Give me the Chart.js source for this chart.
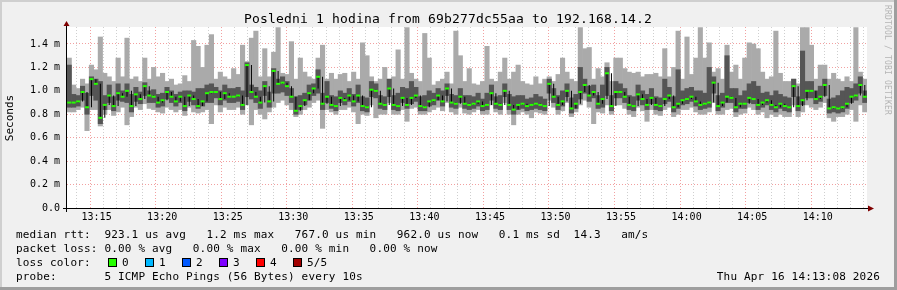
<!DOCTYPE html>
<html>
<head>
<meta charset="utf-8">
<script src="https://cdn.jsdelivr.net/npm/chart.js@4.4.1/dist/chart.umd.min.js"></script>
<style>
  html, body { margin: 0; padding: 0; background: #f0f0f0; }
  canvas { display: block; }
</style>
</head>
<body>
<canvas id="graph" width="897" height="290"></canvas>
<script>
// window 13:13:15 .. 14:13:15, one sample every 20 s (180 samples)
const startSec = 13 * 3600 + 13 * 60 + 15;
const spanSec = 3600;

// median rtt, ms
const medRtt = [
  0.90,0.90,0.91,0.99,0.86,1.10,1.06,0.77,0.88,0.96,0.87,0.98,0.95,1.00,0.87,0.97,0.93,1.04,0.96,0.95,0.90,0.92,0.99,0.95,0.91,0.95,0.87,0.96,0.93,0.87,
  0.91,0.98,0.99,0.99,0.93,0.98,0.95,0.95,0.96,0.88,1.22,0.99,0.95,0.90,1.04,0.91,1.17,1.06,1.07,1.04,0.95,0.83,0.87,0.92,0.98,1.02,1.12,0.89,0.95,0.88,
  0.87,0.94,0.92,0.96,0.91,0.96,0.87,0.86,1.01,1.00,0.89,0.88,1.02,0.88,0.87,0.94,0.88,0.94,0.96,0.87,0.86,0.91,0.92,0.96,0.91,1.02,0.90,0.89,0.95,0.89,
  0.88,0.89,0.91,0.87,0.88,0.98,0.89,0.88,1.00,0.88,0.84,0.88,0.89,0.87,0.88,0.89,0.88,0.87,1.06,0.95,0.88,0.91,1.00,0.85,0.89,0.99,1.05,0.96,0.99,0.89,
  0.93,1.15,0.87,0.99,0.99,0.95,0.88,0.87,0.97,0.93,0.88,0.94,0.88,0.87,0.93,0.96,0.86,0.89,0.92,0.93,0.95,0.91,0.88,0.89,0.90,1.07,0.87,0.90,0.95,0.94,
  0.86,0.89,0.89,0.94,0.93,0.88,0.90,0.92,0.88,0.86,0.89,0.87,0.86,1.04,0.87,0.92,1.00,1.00,0.93,0.95,1.05,0.85,0.86,0.85,0.86,0.89,0.95,0.96,1.05,0.95
];
// slowest ping
const smokeMax = [
  1.28,1.05,1.02,1.10,1.06,1.22,1.18,1.46,1.15,1.12,1.08,1.28,1.12,1.45,1.10,1.12,1.08,1.28,1.10,1.20,1.12,1.15,1.08,1.10,1.05,1.06,1.13,1.08,1.43,1.38,
  1.20,1.39,1.48,1.10,1.16,1.12,1.10,1.19,1.14,1.39,1.25,1.45,1.51,1.12,1.36,1.12,1.33,1.54,1.15,1.14,1.42,1.10,1.28,1.16,1.12,1.10,1.28,1.39,1.10,1.15,
  1.10,1.14,1.15,1.08,1.16,1.10,1.41,1.30,1.12,1.08,1.10,1.20,1.10,1.12,1.35,1.10,1.54,1.15,1.10,1.08,1.49,1.28,1.05,1.08,1.10,1.16,1.06,1.51,1.30,1.08,
  1.19,1.06,1.05,1.08,1.38,1.10,1.08,1.16,1.28,1.10,1.16,1.22,1.08,1.06,1.05,1.12,1.06,1.10,1.12,1.08,1.14,1.28,1.16,1.10,1.08,1.54,1.36,1.37,1.10,1.19,
  1.12,1.24,1.08,1.28,1.28,1.19,1.16,1.15,1.16,1.12,1.14,1.14,1.15,1.12,1.36,1.12,1.20,1.51,1.10,1.46,1.14,1.28,1.54,1.28,1.41,1.16,1.19,1.10,1.39,1.16,
  1.22,1.10,1.28,1.41,1.40,1.36,1.16,1.10,1.12,1.51,1.15,1.08,1.08,1.10,1.06,1.54,1.54,1.39,1.10,1.22,1.22,1.10,1.15,1.10,1.08,1.12,1.08,1.54,1.16,1.10
];
// 4th of 5 pings
const smokeHi = [
  1.22,0.97,0.96,1.04,0.98,1.12,1.10,1.08,0.96,1.05,0.95,1.06,1.00,1.06,0.97,1.03,0.99,1.07,1.00,1.01,0.97,0.98,1.03,1.00,0.97,0.99,1.00,1.00,0.99,1.02,
  1.02,1.05,1.06,1.03,1.00,1.05,1.02,1.02,1.03,1.00,1.24,1.05,1.03,1.00,1.08,0.99,1.19,1.10,1.12,1.08,1.02,0.95,0.96,0.98,1.05,1.06,1.18,0.98,1.08,0.96,
  0.95,1.00,0.98,1.02,0.97,1.05,0.95,0.94,1.08,1.06,0.96,0.95,1.10,0.96,0.98,1.03,1.02,1.08,1.03,0.95,0.96,1.00,0.98,1.02,1.00,1.06,0.97,0.96,1.02,0.96,
  0.96,0.95,0.98,0.93,0.98,1.05,0.95,0.96,1.06,0.97,0.95,0.96,0.96,0.93,0.94,0.97,0.95,0.93,1.10,1.02,0.96,1.00,1.06,0.94,0.97,1.20,1.10,1.04,1.05,0.96,
  1.05,1.20,0.96,1.08,1.06,1.02,0.96,0.95,1.05,1.00,0.97,1.02,0.95,0.94,1.10,1.03,0.95,1.18,1.00,1.02,1.03,1.00,1.00,0.98,1.20,1.12,0.96,0.98,1.30,1.02,
  1.02,0.96,1.00,1.06,1.08,1.04,0.98,0.99,0.96,1.00,0.97,0.95,0.94,1.10,0.95,1.34,1.08,1.08,1.00,1.04,1.10,0.93,0.94,0.96,1.00,1.03,1.02,1.06,1.12,1.00
];
// 2nd of 5 pings
const smokeLo = [
  0.86,0.86,0.87,0.92,0.80,0.96,0.92,0.72,0.84,0.90,0.83,0.92,0.91,0.90,0.82,0.91,0.89,0.96,0.90,0.90,0.86,0.87,0.93,0.90,0.87,0.90,0.83,0.91,0.88,0.85,
  0.87,0.90,0.90,0.94,0.88,0.92,0.90,0.90,0.91,0.84,0.95,0.93,0.90,0.85,0.96,0.86,0.98,0.98,0.99,0.96,0.90,0.80,0.84,0.88,0.92,0.96,0.98,0.84,0.90,0.85,
  0.83,0.90,0.88,0.91,0.87,0.90,0.83,0.82,0.95,0.94,0.85,0.84,0.95,0.84,0.83,0.90,0.85,0.89,0.91,0.83,0.83,0.87,0.88,0.92,0.87,0.96,0.86,0.85,0.90,0.85,
  0.84,0.85,0.87,0.83,0.84,0.92,0.85,0.84,0.95,0.84,0.80,0.84,0.85,0.83,0.84,0.85,0.84,0.83,0.98,0.90,0.84,0.87,0.95,0.81,0.85,0.93,0.98,0.91,0.94,0.85,
  0.86,0.96,0.83,0.94,0.94,0.90,0.84,0.83,0.92,0.88,0.84,0.89,0.84,0.83,0.89,0.91,0.82,0.85,0.88,0.89,0.91,0.87,0.84,0.85,0.86,0.98,0.83,0.86,0.90,0.90,
  0.82,0.85,0.85,0.90,0.89,0.84,0.86,0.88,0.84,0.82,0.85,0.83,0.82,0.95,0.83,0.88,0.94,0.94,0.89,0.91,0.96,0.81,0.82,0.81,0.82,0.85,0.90,0.92,0.98,0.90
];
// fastest ping
const smokeMin = [
  0.82,0.82,0.84,0.86,0.66,0.84,0.84,0.70,0.80,0.84,0.79,0.82,0.86,0.71,0.78,0.86,0.84,0.89,0.85,0.84,0.82,0.81,0.86,0.84,0.82,0.84,0.79,0.86,0.82,0.81,
  0.82,0.84,0.72,0.88,0.82,0.86,0.84,0.84,0.86,0.80,0.88,0.71,0.84,0.80,0.76,0.82,0.86,0.90,0.92,0.88,0.84,0.78,0.80,0.84,0.86,0.90,0.92,0.68,0.84,0.82,
  0.80,0.84,0.84,0.86,0.82,0.72,0.80,0.79,0.88,0.77,0.80,0.80,0.90,0.80,0.80,0.84,0.74,0.85,0.86,0.80,0.80,0.82,0.84,0.86,0.83,0.90,0.82,0.80,0.86,0.81,
  0.80,0.82,0.84,0.80,0.80,0.88,0.82,0.80,0.90,0.80,0.71,0.80,0.82,0.80,0.77,0.82,0.81,0.80,0.92,0.86,0.80,0.83,0.90,0.78,0.82,0.88,0.92,0.86,0.72,0.82,
  0.81,0.88,0.80,0.88,0.88,0.85,0.80,0.78,0.86,0.83,0.74,0.84,0.80,0.79,0.84,0.86,0.78,0.80,0.84,0.84,0.86,0.82,0.80,0.80,0.82,0.90,0.80,0.80,0.84,0.85,
  0.78,0.80,0.81,0.86,0.84,0.80,0.82,0.77,0.80,0.78,0.80,0.78,0.78,0.88,0.78,0.82,0.88,0.86,0.84,0.86,0.90,0.77,0.74,0.78,0.78,0.80,0.84,0.74,0.88,0.82
];

const yTickValues = [0, 0.1, 0.2, 0.3, 0.4, 0.5, 0.6, 0.7, 0.8, 0.9, 1.0, 1.1, 1.2, 1.3, 1.4, 1.5];
const xTickLabels = ['13:15','13:20','13:25','13:30','13:35','13:40','13:45','13:50','13:55','14:00','14:05','14:10'];

const titleText = 'Posledni 1 hodina from 69b277dc55aa to 192.168.14.2';
const legendLines = [
  'median rtt:  923.1 us avg   1.2 ms max   767.0 us min   962.0 us now   0.1 ms sd  14.3   am/s',
  'packet loss: 0.00 % avg   0.00 % max   0.00 % min   0.00 % now',
  'loss color:',
  'probe:       5 ICMP Echo Pings (56 Bytes) every 10s'
];
const stampText = 'Thu Apr 16 14:13:08 2026';
const lossLabels = ['0', '1', '2', '3', '4', '5/5'];
const lossColors = ['#26ff00', '#00b8ff', '#0059ff', '#7e00ff', '#ff0000', '#a10000'];

const MAJOR = '#f2a0a0';
const MINOR = '#cfcfcf';
const mono = 'DejaVu Sans Mono';

function pad2(n) { return (n < 10 ? '0' : '') + n; }
function hhmm(sec) { return pad2(Math.floor(sec / 3600)) + ':' + pad2(Math.floor(sec % 3600 / 60)); }

// draw text with a fixed character pitch, like rrdtool's legend
function pitched(c, s, x, y, p) {
  for (let i = 0; i < s.length; i++) c.fillText(s[i], x + i * p, y);
}

const rrdFrame = {
  id: 'rrdFrame',
  beforeDraw(chart) {
    const c = chart.ctx, a = chart.chartArea;
    c.save();
    c.fillStyle = '#f0f0f0';
    c.fillRect(0, 0, 897, 290);
    c.fillStyle = '#cfcfcf';
    c.fillRect(0, 0, 897, 2);
    c.fillRect(0, 0, 2, 290);
    c.fillStyle = '#9e9e9e';
    c.fillRect(0, 287, 897, 3);
    c.fillRect(894, 0, 3, 290);
    c.fillStyle = '#ffffff';
    c.fillRect(a.left, a.top, a.right - a.left, a.bottom - a.top);
    c.restore();
  },
  afterDraw(chart) {
    const c = chart.ctx, a = chart.chartArea;
    c.save();
    // axes
    c.strokeStyle = '#000';
    c.lineWidth = 1;
    c.beginPath();
    c.moveTo(63, a.bottom + 0.5);
    c.lineTo(a.right + 2, a.bottom + 0.5);
    c.moveTo(a.left - 0.5, a.bottom + 4);
    c.lineTo(a.left - 0.5, a.top - 2);
    c.stroke();
    c.fillStyle = '#7f0000';
    c.beginPath();
    c.moveTo(a.right + 7, a.bottom + 0.5);
    c.lineTo(a.right + 1, a.bottom - 2.5);
    c.lineTo(a.right + 1, a.bottom + 3.5);
    c.fill();
    c.beginPath();
    c.moveTo(a.left - 0.5, a.top - 6);
    c.lineTo(a.left - 3.5, a.top - 1);
    c.lineTo(a.left + 2.5, a.top - 1);
    c.fill();

    c.fillStyle = '#000';
    c.textBaseline = 'alphabetic';
    c.textAlign = 'left';
    // title
    c.font = '13px "' + mono + '"';
    pitched(c, titleText, 244, 23, 8);

    // y title
    c.save();
    c.translate(13, 118);
    c.rotate(-Math.PI / 2);
    c.textAlign = 'center';
    c.font = '11px "' + mono + '"';
    c.fillText('Seconds', 0, 0);
    c.restore();

    // vertical credit
    c.save();
    c.translate(885, 5);
    c.rotate(Math.PI / 2);
    c.fillStyle = '#b4b4b4';
    c.font = '8px "' + mono + '"';
    pitched(c, 'RRDTOOL / TOBI OETIKER', 0, 0, 5);
    c.restore();

    // legend
    c.font = '11px "' + mono + '"';
    const p = 6.8;
    legendLines.forEach((s, i) => pitched(c, s, 16, 238 + i * 14, p));
    lossLabels.forEach((lab, i) => {
      const bx = 108 + i * 37;
      c.fillStyle = lossColors[i];
      c.fillRect(bx, 258, 8, 8);
      c.strokeStyle = '#000';
      c.strokeRect(bx + 0.5, 258.5, 8, 8);
      c.fillStyle = '#000';
      pitched(c, lab, bx + 14, 266, p);
    });
    pitched(c, stampText, 880 - stampText.length * p, 280, p);
    c.restore();
  }
};

const labels = medRtt.map((_, i) => i);
const barBase = { borderWidth: 0, grouped: false, barPercentage: 1, categoryPercentage: 1 };

new Chart(document.getElementById('graph'), {
  type: 'bar',
  data: {
    labels: labels,
    datasets: [
      Object.assign({
        label: 'smoke outer',
        data: smokeMax.map((v, i) => [smokeMin[i], v]),
        backgroundColor: '#aaaaaa',
        order: 4
      }, barBase),
      Object.assign({
        label: 'smoke inner',
        data: smokeHi.map((v, i) => [smokeLo[i], v]),
        backgroundColor: '#555555',
        order: 3
      }, barBase),
      {
        // black riser from previous median to this one
        label: 'median step',
        data: medRtt.map((v, i) => [i ? medRtt[i - 1] : v, v]),
        backgroundColor: '#000000',
        borderWidth: 0,
        grouped: false,
        barThickness: 1,
        inflateAmount: 0,
        order: 2
      },
      {
        type: 'line',
        label: 'median',
        data: medRtt,
        showLine: false,
        pointStyle: 'line',
        pointRadius: 2,
        pointBorderWidth: 2,
        pointBorderColor: '#26ff00',
        pointHoverRadius: 2,
        order: 1
      }
    ]
  },
  options: {
    responsive: false,
    devicePixelRatio: 1,
    animation: false,
    layout: { padding: { left: 0, right: 30, top: 27, bottom: 0 } },
    plugins: { legend: { display: false }, tooltip: { enabled: false } },
    scales: {
      x: { display: false, offset: true, grid: { display: false } },
      xt: {
        type: 'linear',
        position: 'bottom',
        min: 0,
        max: spanSec,
        afterBuildTicks: axis => {
          const ticks = [];
          for (let m = Math.ceil(startSec / 60); m * 60 < startSec + spanSec; m++) {
            ticks.push({ value: m * 60 - startSec });
          }
          axis.ticks = ticks;
        },
        afterFit: axis => { axis.height = 82; },
        border: { display: false, dash: [1, 2] },
        grid: {
          drawTicks: false,
          lineWidth: 1,
          color: ctx => {
            const lab = ctx.tick ? hhmm(startSec + ctx.tick.value) : '';
            return xTickLabels.includes(lab) ? MAJOR : MINOR;
          }
        },
        ticks: {
          autoSkip: false,
          maxRotation: 0,
          padding: 3,
          color: '#000',
          font: { family: mono, size: 10 },
          callback: v => {
            const lab = hhmm(startSec + v);
            return xTickLabels.includes(lab) ? lab : '';
          }
        }
      },
      y: {
        min: 0,
        max: 1.545,
        afterBuildTicks: axis => { axis.ticks = yTickValues.map(v => ({ value: v })); },
        afterFit: axis => { axis.width = 67; },
        border: { display: false, dash: [1, 2] },
        grid: {
          drawTicks: false,
          lineWidth: 1,
          color: ctx => (ctx.tick && Math.round(ctx.tick.value * 10) % 2 === 0) ? MAJOR : MINOR
        },
        ticks: {
          padding: 7,
          color: '#000',
          font: { family: mono, size: 10 },
          callback: v => {
            if (Math.round(v * 10) % 2 !== 0) return '';
            return v === 0 ? '0.0' : v.toFixed(1) + ' m';
          }
        }
      }
    }
  },
  plugins: [rrdFrame]
});
</script>
</body>
</html>
